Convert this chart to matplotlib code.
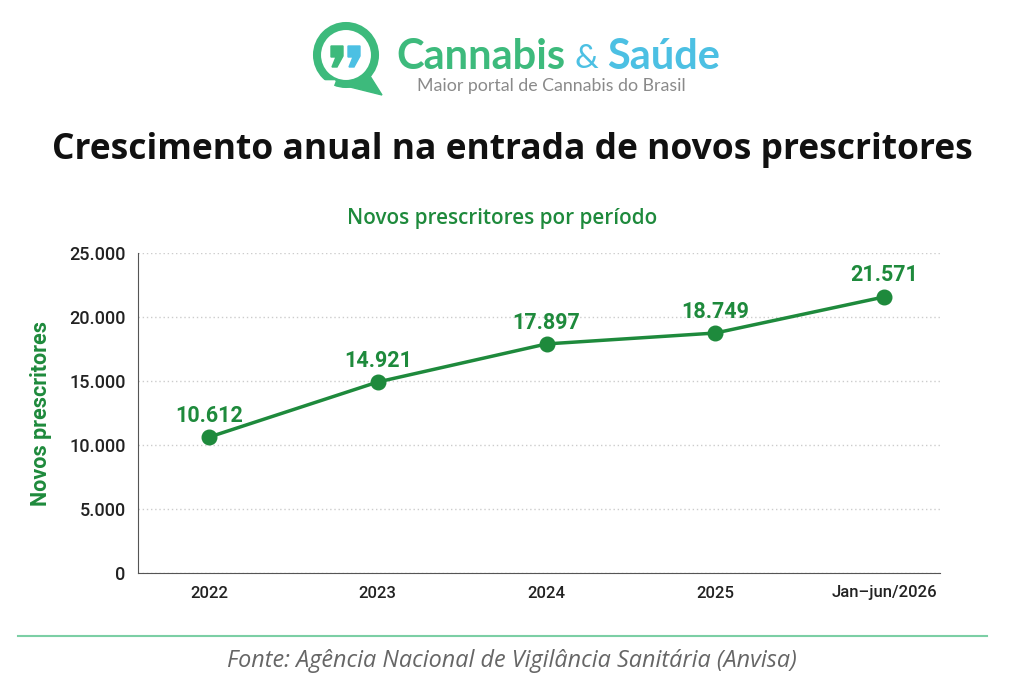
import matplotlib.pyplot as plt
from matplotlib.patches import Circle, Polygon

periods = ['2022', '2023', '2024', '2025', 'Jan–jun/2026']
prescritores = [10612, 14921, 17897, 18749, 21571]
y_ticks = [0, 5000, 10000, 15000, 20000, 25000]
y_tick_labels = ['0', '5.000', '10.000', '15.000', '20.000', '25.000']

green = '#1e8a3c'
logo_green = '#3dba7c'
logo_blue = '#4cc0e3'

plt.rcParams['font.family'] = ['Open Sans', 'DejaVu Sans']

fig = plt.figure(figsize=(10.24, 6.82), dpi=100)
fig.patch.set_facecolor('white')
inch = fig.dpi_scale_trans


def px(x, y):
    # pixel position (from top-left) to inches
    return x / 100, (682 - y) / 100


# logo: speech bubble with two quote marks
fig.patches.append(Circle(px(346, 55), 0.29, transform=inch, fill=False,
                          lw=5.8, ec=logo_green))
fig.patches.append(Polygon([px(338, 84), px(382, 95), px(370, 76)], closed=True,
                           transform=inch, fc=logo_green, ec=logo_green))
fig.patches.append(Polygon([px(324, 81), px(335, 81), px(332, 89)], closed=True,
                           transform=inch, fc='white', ec='white'))
comma = [(0, 0), (12, 0), (12, 10), (6, 21), (1, 21), (5, 11), (0, 11)]
for dx, col in [(331, logo_green), (348, logo_blue)]:
    fig.patches.append(Polygon([px(dx + a, 46 + b) for a, b in comma], closed=True,
                               transform=inch, fc=col, ec=col))
fig.text(*px(396, 57), 'Cannabis', transform=inch, fontsize=30, fontweight='bold',
         color=logo_green, ha='left', va='center', family='Lato')
fig.text(*px(575, 59), '&', transform=inch, fontsize=24, color=logo_blue,
         ha='left', va='center', family='Lato')
fig.text(*px(607, 57), 'Saúde', transform=inch, fontsize=30, fontweight='bold',
         color=logo_blue, ha='left', va='center', family='Lato')
fig.text(*px(551, 86), 'Maior portal de Cannabis do Brasil', transform=inch,
         fontsize=12.8, color='#8a8a8a', ha='center', va='center', family='Lato')

fig.text(*px(512, 150), 'Crescimento anual na entrada de novos prescritores',
         transform=inch, fontsize=25.5, fontweight='bold', color='#111111',
         ha='center', va='center')
fig.text(*px(502, 218), 'Novos prescritores por período', transform=inch,
         fontsize=14.9, fontweight='semibold', color=green, ha='center', va='center')

ax = fig.add_axes([138 / 1024, 1 - 573 / 682, (940 - 138) / 1024, (573 - 253) / 682])
x = list(range(len(periods)))
ax.plot(x, prescritores, color=green, lw=2.5, marker='o', ms=10.5, zorder=3)
for xi, v in zip(x, prescritores):
    ax.annotate(f'{v:,}'.replace(',', '.'), (xi, v), xytext=(0, 7.5), textcoords='offset points',
                ha='center', va='bottom', fontsize=15.5, fontweight='bold', color=green,
                family='Roboto')

ax.set_xlim(-0.42, 4.33)
ax.set_ylim(0, 25000)
ax.set_yticks(y_ticks)
ax.set_yticklabels(y_tick_labels)
ax.set_xticks(x)
ax.set_xticklabels(periods)
for lab in ax.get_xticklabels() + ax.get_yticklabels():
    lab.set_family('Roboto')
    lab.set_fontweight('medium')
ax.tick_params(axis='x', length=0, labelsize=12, colors='#222222', pad=9)
ax.tick_params(axis='y', length=0, labelsize=13, colors='#222222', pad=9)
ax.grid(axis='y', color='#cccccc', ls=(0, (1, 2)), lw=1)
ax.set_axisbelow(True)
for s in ['top', 'right']:
    ax.spines[s].set_visible(False)
ax.spines['left'].set_color('#555555')
ax.spines['bottom'].set_color('#555555')
ax.set_ylabel('Novos prescritores', fontsize=15.5, fontweight='bold', color=green,
              family='Roboto', labelpad=12)

# source line
fig.add_artist(plt.Line2D([18 / 1024, 987 / 1024], [1 - 636 / 682, 1 - 636 / 682],
                          color='#7ccfa5', lw=1.5, transform=fig.transFigure))
fig.text(*px(512, 661), 'Fonte: Agência Nacional de Vigilância Sanitária (Anvisa)',
         transform=inch, fontsize=16.8, style='italic', color='#666666',
         ha='center', va='center')

fig.savefig('out.png', dpi=100, facecolor='white')
